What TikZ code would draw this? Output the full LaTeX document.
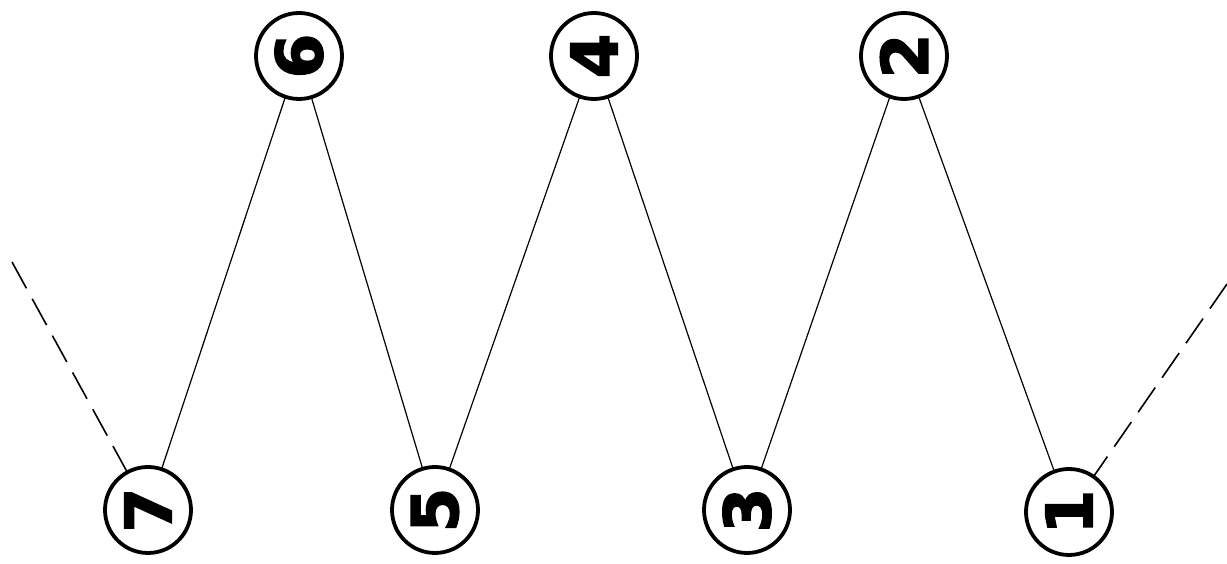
\documentclass[tikz,border=0pt]{standalone}
\usepackage{fontspec}
\newfontfamily\digitfont[FakeBold=2.5]{DejaVu Sans Bold}
\begin{document}
\begin{tikzpicture}[x=1pt,y=1pt,
  nd/.style={circle, draw, line width=3.8pt, minimum size=86pt, inner sep=0pt, outer sep=0pt,
    rotate=90, font=\digitfont\bfseries\fontsize{64}{64}\selectfont},
  conn/.style={line width=1.2pt},
  dashconn/.style={line width=1.6pt, dash pattern=on 30pt off 12pt}]
\useasboundingbox (0,0) rectangle (1227,564);
\node[nd] (n6) at (299,508) {6};
\node[nd] (n4) at (594,508) {4};
\node[nd] (n2) at (904,508) {2};
\node[nd] (n7) at (148,54) {7};
\node[nd] (n5) at (435,54) {5};
\node[nd] (n3) at (747,54) {3};
\node[nd] (n1) at (1069,52) {1};
\coordinate (l) at (12,302);
\coordinate (r) at (1227,280);
\draw[conn] (n7) -- (n6);
\draw[conn] (n6) -- (n5);
\draw[conn] (n5) -- (n4);
\draw[conn] (n4) -- (n3);
\draw[conn] (n3) -- (n2);
\draw[conn] (n2) -- (n1);
\draw[dashconn] (l) -- (n7);
\draw[dashconn] (r) -- (n1);
\end{tikzpicture}
\end{document}
